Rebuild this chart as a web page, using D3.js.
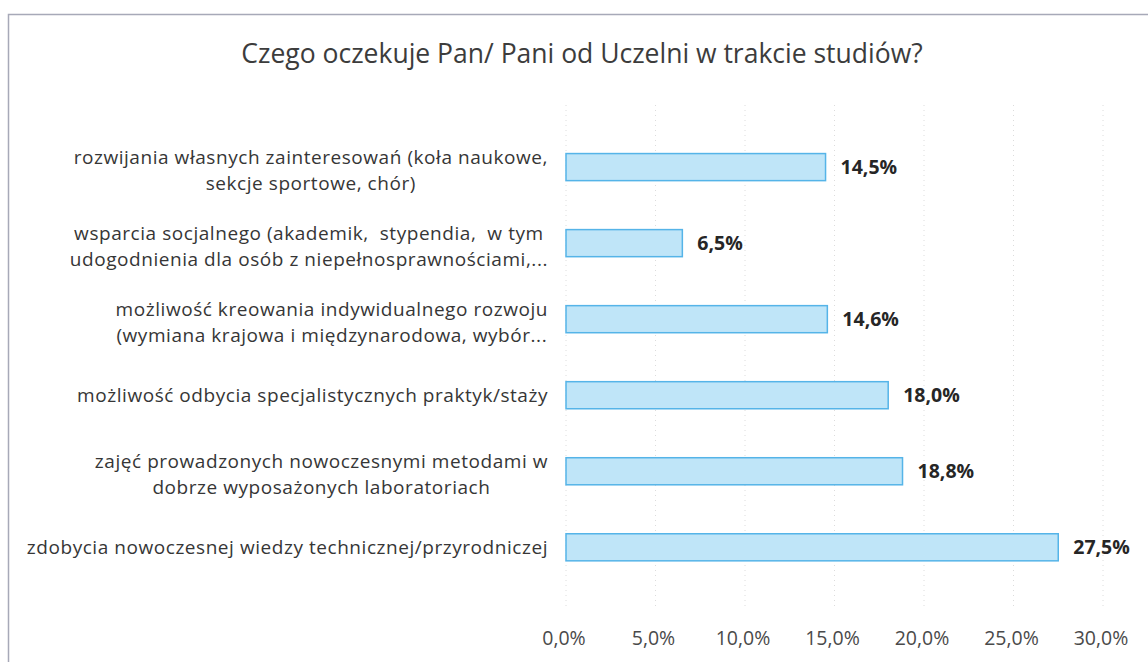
<!DOCTYPE html>
<html>
<head>
<meta charset="utf-8">
<script src="https://cdn.jsdelivr.net/npm/d3@7"></script>
<style>
  body { margin: 0; background: #fff; }
  svg { display: block; font-family: "Open Sans", sans-serif; }
  text { white-space: pre; }
</style>
</head>
<body>
<svg id="svg"></svg>
<script>
// data (top to bottom)
let categories = [
  ["rozwijania własnych zainteresowań (koła naukowe,", "sekcje sportowe, chór)"],
  ["wsparcia socjalnego (akademik,  stypendia,  w tym", "udogodnienia dla osób z niepełnosprawnościami,..."],
  ["możliwość kreowania indywidualnego rozwoju", "(wymiana krajowa i międzynarodowa, wybór..."],
  ["możliwość odbycia specjalistycznych praktyk/staży"],
  ["zajęć prowadzonych nowoczesnymi metodami w", "dobrze wyposażonych laboratoriach"],
  ["zdobycia nowoczesnej wiedzy technicznej/przyrodniczej"]
];
let values = [14.5, 6.5, 14.6, 18.0, 18.8, 27.5];
let ticks = [0, 5, 10, 15, 20, 25, 30];
let title = "Czego oczekuje Pan/ Pani od Uczelni w trakcie studiów?";

let width = 1148, height = 662;
let fmt = v => v.toFixed(1).replace(".", ",") + "%";

let svg = d3.select("#svg").attr("width", width).attr("height", height);

// chart frame (only top and left edges are visible in the picture)
svg.append("path")
   .attr("d", "M8.5," + height + " V14.5 H" + width)
   .attr("fill", "none")
   .attr("stroke", "#a7a9b8")
   .attr("stroke-width", 1.5);

let x = d3.scaleLinear().domain([0, 30]).range([566, 1103]);
let y = d3.scaleBand()
          .domain(d3.range(categories.length))
          .range([104.6, 609.8])
          .padding(0.644);

// faint gridlines
svg.append("g").selectAll("line")
   .data(ticks)
   .enter().append("line")
   .attr("x1", d => x(d)).attr("x2", d => x(d))
   .attr("y1", 105).attr("y2", 610)
   .attr("stroke", "#dcdcdc")
   .attr("stroke-dasharray", "1,4")
   .attr("stroke-width", 1);

// title
svg.append("text")
   .attr("x", 582).attr("y", 63)
   .attr("text-anchor", "middle")
   .attr("font-size", 26.5)
   .attr("fill", "#3c3c3c")
   .text(title);

// bars
svg.append("g").selectAll("rect")
   .data(values)
   .enter().append("rect")
   .attr("x", x(0))
   .attr("y", (d, i) => y(i))
   .attr("width", d => x(d) - x(0))
   .attr("height", y.bandwidth())
   .attr("fill", "#bfe5f8")
   .attr("stroke", "#55b4e8")
   .attr("stroke-width", 1.5);

// value labels
svg.append("g").selectAll("text")
   .data(values)
   .enter().append("text")
   .attr("x", d => x(d) + 15)
   .attr("y", (d, i) => y(i) + y.bandwidth() / 2)
   .attr("dy", "0.35em")
   .attr("font-size", 19.5)
   .attr("font-weight", "bold")
   .attr("fill", "#262626")
   .text(d => fmt(d));

// category labels: block right-aligned, each line centered inside the block
let labelRight = 548, lineH = 26;
let lg = svg.append("g").selectAll("g")
            .data(categories)
            .enter().append("g");

lg.each(function(lines, i) {
  let g = d3.select(this);
  let cy = y(i) + y.bandwidth() / 2;
  let shift = lines.length > 1 ? 3 : 0;
  let texts = lines.map((s, j) =>
    g.append("text")
     .attr("y", cy + (j - (lines.length - 1) / 2) * lineH + shift)
     .attr("dy", "0.35em")
     .attr("font-size", 19)
     .attr("letter-spacing", 0.55)
     .attr("fill", "#363636")
     .attr("text-anchor", "middle")
     .text(s));
  let w = d3.max(texts, t => t.node().getComputedTextLength());
  texts.forEach(t => t.attr("x", labelRight - w / 2));
});

// x axis tick labels
svg.append("g").selectAll("text")
   .data(ticks)
   .enter().append("text")
   .attr("x", d => x(d) - 2)
   .attr("y", 638)
   .attr("dy", "0.35em")
   .attr("text-anchor", "middle")
   .attr("font-size", 19.5)
   .attr("fill", "#4a4a4a")
   .text(d => fmt(d));
</script>
</body>
</html>
